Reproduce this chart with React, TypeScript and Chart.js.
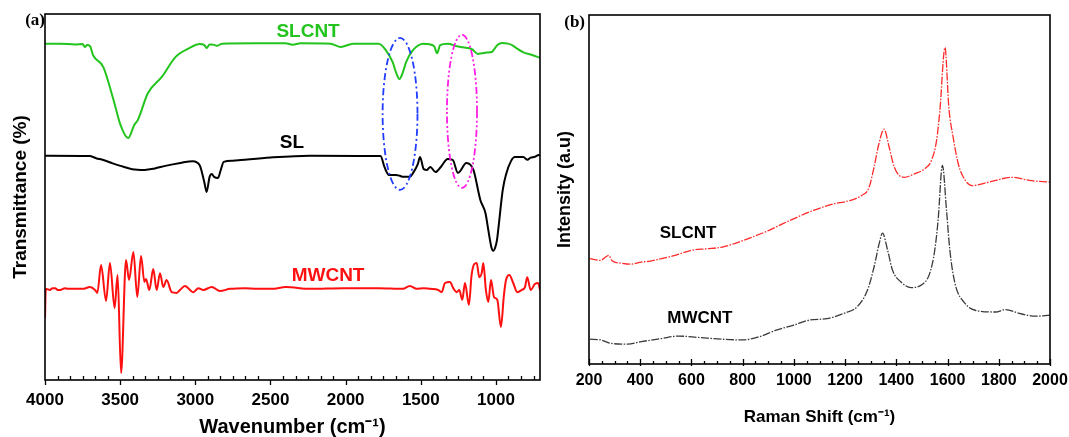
import React, { useEffect, useRef } from 'react';
import { Chart, registerables } from 'chart.js';

Chart.register(...registerables);
Chart.defaults.font.family = '"Liberation Sans", Arial, sans-serif';

// ---------- Panel (a): FTIR (wavenumber cm-1, transmittance % offset) ----------
const ftirSLCNT: [number, number][] = [
  [4000, 91.9], [3900, 91.9], [3800, 91.7], [3750, 91.8], [3735, 91.0], [3720, 91.5], [3700, 91.2],
  [3681, 88.8], [3612, 85.5], [3544, 76.5], [3498, 69.7], [3447, 66.1], [3406, 69.7], [3383, 71.0],
  [3315, 78.4], [3223, 82.8], [3131, 88.3], [3040, 90.7], [2971, 91.8], [2940, 91.5], [2925, 90.7],
  [2905, 91.7], [2891, 91.7], [2870, 91.5], [2856, 91.3], [2822, 91.9], [2600, 92.0], [2400, 92.0],
  [2352, 91.6], [2300, 92.0], [2100, 91.9], [2032, 91.0], [1950, 91.9], [1780, 91.9], [1734, 90.2],
  [1688, 86.9], [1660, 83.5], [1642, 82.2], [1620, 84.0], [1597, 86.9], [1551, 90.2], [1482, 91.9],
  [1413, 91.3], [1395, 89.5], [1390, 89.3], [1380, 90.5], [1372, 91.5], [1321, 91.9], [1306, 91.8],
  [1260, 91.2], [1220, 90.9], [1160, 90.4], [1120, 89.1], [1093, 89.3], [1060, 89.5], [1027, 89.6],
  [1010, 90.5], [990, 91.5], [960, 92.1], [920, 91.9], [893, 91.5], [864, 90.7], [820, 89.6],
  [760, 88.8], [707, 88.0],
];

const ftirSL: [number, number][] = [
  [4000, 61.3], [3704, 61.2], [3660, 60.6], [3612, 60.1], [3550, 59.2], [3498, 58.5], [3420, 57.6],
  [3337, 57.4], [3270, 57.8], [3200, 58.5], [3100, 59.3], [3017, 59.8], [2971, 58.7], [2940, 54.0],
  [2925, 51.4], [2905, 55.5], [2891, 56.3], [2875, 55.5], [2849, 55.2], [2830, 57.5], [2811, 59.6],
  [2750, 59.9], [2696, 60.1], [2500, 60.8], [2237, 61.3], [1768, 61.2], [1740, 58.0], [1712, 56.0],
  [1665, 56.0], [1640, 55.8], [1619, 55.5], [1573, 55.5], [1551, 56.6], [1520, 59.0], [1505, 60.9],
  [1480, 57.6], [1459, 57.4], [1437, 58.2], [1402, 56.8], [1367, 58.2], [1321, 60.4], [1287, 60.1],
  [1253, 56.6], [1196, 59.3], [1150, 57.4], [1104, 49.2], [1070, 45.6], [1051, 41.0], [1040, 38.3],
  [1030, 36.2], [1018, 35.3], [1005, 36.2], [993, 38.3], [985, 41.0], [955, 51.9], [932, 56.3],
  [900, 59.8], [875, 60.9], [818, 60.9], [790, 60.2], [772, 60.7], [740, 61.0], [715, 61.5], [707, 61.3],
];

const ftirMWCNT: [number, number][] = [
  [4000, 16.9], [3995, 24.9], [3967, 24.6], [3950, 25.1], [3933, 25.1], [3915, 24.6], [3900, 24.6],
  [3867, 25.1], [3850, 24.9], [3800, 24.9], [3750, 24.9], [3701, 25.4], [3667, 24.6], [3652, 23.8],
  [3627, 31.4], [3594, 21.6], [3568, 32.0], [3537, 19.7], [3517, 28.7], [3494, 1.9], [3461, 32.8],
  [3441, 27.3], [3412, 35.0], [3386, 22.7], [3361, 33.9], [3339, 26.8], [3328, 27.6], [3306, 24.6],
  [3280, 30.3], [3257, 24.6], [3235, 29.2], [3213, 25.4], [3191, 27.3], [3157, 24.0], [3124, 23.8],
  [3102, 24.6], [3069, 25.7], [3013, 24.0], [2980, 25.1], [2947, 24.6], [2891, 25.4], [2836, 24.3],
  [2769, 24.9], [2670, 25.1], [2592, 24.9], [2490, 24.9], [2398, 25.4], [2237, 24.9], [2010, 25.1],
  [1780, 25.1], [1619, 24.9], [1573, 25.7], [1527, 24.9], [1482, 25.1], [1439, 24.9], [1384, 24.6],
  [1361, 24.0], [1339, 26.5], [1306, 26.8], [1284, 25.1], [1262, 24.0], [1244, 24.6], [1224, 21.9],
  [1206, 26.5], [1180, 20.5], [1162, 28.7], [1144, 31.7], [1128, 32.0], [1111, 28.1], [1095, 29.2],
  [1084, 32.0], [1067, 24.6], [1051, 21.3], [1033, 27.3], [1013, 22.7], [991, 21.9], [967, 14.5],
  [947, 23.2], [933, 27.3], [911, 28.7], [885, 26.5], [858, 24.0], [829, 24.6], [807, 25.4],
  [792, 28.1], [769, 24.6], [741, 26.2], [719, 26.5], [707, 24.6],
];

const ftirMajorTicks = [4000, 3500, 3000, 2500, 2000, 1500, 1000];
const ftirRange = [707, 4000];

// ellipse annotations: [centerX, centerY, halfWidth (cm-1), halfHeight (%)]
const blueEllipse = [1638, 72.7, 116, 20.75];
const magentaEllipse = [1226, 73.4, 100, 20.9];

const ftirTextLabels = [
  { text: 'SLCNT', x: 2250, y: 95.1, color: '#22c41d' },
  { text: 'SL', x: 2357, y: 64.8, color: '#000000' },
  { text: 'MWCNT', x: 2117, y: 28.4, color: '#ff1010' },
];

// ---------- Panel (b): Raman (shift cm-1, intensity a.u.) ----------
const ramanSLCNT: [number, number][] = [
  [203, 30.2], [246, 29.7], [262, 30.5], [277, 31.1], [290, 29.6], [325, 28.9], [360, 28.6], [404, 29.2],
  [440, 29.5], [483, 30.2], [540, 31.2], [601, 32.6], [660, 33.0], [720, 33.5], [780, 34.8], [839, 36.4],
  [900, 38.2], [957, 40.2], [1020, 42.3], [1076, 44.0], [1155, 45.9], [1200, 46.5], [1234, 47.2],
  [1265, 48.3], [1293, 50.5], [1313, 56.4], [1332, 63.1], [1352, 67.3], [1372, 62.1], [1392, 56.4],
  [1412, 54.0], [1431, 53.5], [1471, 54.5], [1510, 55.9], [1537, 58.3], [1557, 64.0], [1570, 72.6],
  [1590, 90.7], [1605, 73.5], [1622, 64.9], [1642, 57.3], [1662, 53.5], [1695, 51.1], [1761, 52.1],
  [1853, 53.5], [1919, 52.6], [1998, 52.1],
];

const ramanMWCNT: [number, number][] = [
  [203, 7.1], [246, 6.9], [286, 5.9], [351, 5.7], [404, 6.4], [483, 7.3], [549, 8.0], [628, 7.6],
  [720, 7.1], [799, 6.9], [865, 7.8], [931, 9.7], [997, 11.1], [1063, 12.6], [1129, 13.0], [1194, 14.5],
  [1247, 16.4], [1287, 21.1], [1313, 27.8], [1333, 34.5], [1346, 37.5], [1366, 32.6], [1385, 26.9],
  [1418, 23.5], [1458, 21.9], [1497, 22.6], [1530, 25.9], [1550, 32.6], [1563, 41.1], [1580, 56.9],
  [1596, 44.0], [1609, 32.6], [1629, 23.1], [1669, 17.3], [1708, 15.4], [1787, 14.9], [1827, 15.6],
  [1880, 14.5], [1945, 13.7], [1998, 14.0],
];

const ramanMajorTicks = [200, 400, 600, 800, 1000, 1200, 1400, 1600, 1800, 2000];
const ramanRange = [200, 2000];

const ramanTextLabels = [
  { text: 'SLCNT', x: 587, y: 37.4, color: '#000000' },
  { text: 'MWCNT', x: 633, y: 13.1, color: '#000000' },
];

const toXY = (arr: [number, number][]) => arr.map(([x, y]) => ({ x, y }));

function makePlugin(opts: {
  id: string;
  minorStep: number;
  majorEvery: number;
  start: number;
  end: number;
  majorOut: number;
  majorIn: number;
  minorIn: number;
  letter: string;
  letterDx: number;
  letterDy: number;
  labels: { text: string; x: number; y: number; color: string }[];
  labelFont: string;
  ellipses: { spec: number[]; color: string; dash: number[] }[];
}) {
  return {
    id: opts.id,
    afterDatasetsDraw(chart: any) {
      const { ctx, chartArea: a, scales } = chart;
      const xs = scales.x;
      const ys = scales.y;
      ctx.save();
      for (const e of opts.ellipses) {
        const [cx, cy, hw, hh] = e.spec;
        const px = xs.getPixelForValue(cx);
        const py = ys.getPixelForValue(cy);
        const rx = Math.abs(xs.getPixelForValue(cx + hw) - px);
        const ry = Math.abs(ys.getPixelForValue(cy + hh) - py);
        ctx.beginPath();
        ctx.setLineDash(e.dash);
        ctx.strokeStyle = e.color;
        ctx.lineWidth = 1.8;
        ctx.ellipse(px, py, rx, ry, 0, 0, Math.PI * 2);
        ctx.stroke();
      }
      ctx.setLineDash([]);
      ctx.font = opts.labelFont;
      ctx.textAlign = 'center';
      ctx.textBaseline = 'middle';
      for (const l of opts.labels) {
        ctx.fillStyle = l.color;
        ctx.fillText(l.text, xs.getPixelForValue(l.x), ys.getPixelForValue(l.y));
      }
      ctx.strokeStyle = '#000';
      ctx.lineWidth = 1.6;
      ctx.strokeRect(a.left, a.top, a.right - a.left, a.bottom - a.top);
      ctx.lineWidth = 1.3;
      ctx.beginPath();
      const lo = Math.min(opts.start, opts.end);
      const hi = Math.max(opts.start, opts.end);
      const dir = opts.end > opts.start ? 1 : -1;
      for (let i = 0; ; i++) {
        const v = opts.start + dir * i * opts.minorStep;
        if (v < lo - 1e-6 || v > hi + 1e-6) break;
        const p = Math.round(xs.getPixelForValue(v)) + 0.5;
        const major = i % opts.majorEvery === 0;
        if (major) {
          ctx.moveTo(p, a.bottom - opts.majorIn);
          ctx.lineTo(p, a.bottom + opts.majorOut);
        } else {
          ctx.moveTo(p, a.bottom - opts.minorIn);
          ctx.lineTo(p, a.bottom);
        }
      }
      ctx.stroke();
      ctx.fillStyle = '#000';
      ctx.font = 'bold 17px "Liberation Serif", "Times New Roman", serif';
      ctx.textAlign = 'right';
      ctx.textBaseline = 'middle';
      ctx.fillText(opts.letter, a.left + opts.letterDx, a.top + opts.letterDy);
      ctx.restore();
    },
  };
}

export default function App() {
  const refA = useRef<HTMLCanvasElement>(null);
  const refB = useRef<HTMLCanvasElement>(null);

  useEffect(() => {
    const chartA = new Chart(refA.current!, {
      type: 'line',
      data: {
        datasets: [
          { data: toXY(ftirSLCNT), borderColor: '#22c41d', borderWidth: 2 },
          { data: toXY(ftirSL), borderColor: '#000000', borderWidth: 2 },
          { data: toXY(ftirMWCNT), borderColor: '#ff1010', borderWidth: 2 },
        ].map((d) => ({ ...d, pointRadius: 0, fill: false, cubicInterpolationMode: 'monotone' as const })),
      },
      options: {
        animation: false,
        responsive: false,
        events: [],
        layout: { padding: { top: 14, right: 8, left: 0, bottom: 0 } },
        plugins: { legend: { display: false }, tooltip: { enabled: false } },
        scales: {
          x: {
            type: 'linear',
            reverse: true,
            min: ftirRange[0],
            max: ftirRange[1],
            afterBuildTicks: (s: any) => {
              s.ticks = ftirMajorTicks.map((v) => ({ value: v }));
            },
            afterFit: (s: any) => {
              s.height = 57;
              s.paddingLeft = 0;
              s.paddingRight = 0;
            },
            grid: { display: false, drawTicks: false },
            border: { display: false },
            ticks: {
              autoSkip: false,
              maxRotation: 0,
              minRotation: 0,
              padding: 12,
              color: '#000',
              font: { size: 17, weight: 'bold', lineHeight: 1 },
              callback: (v: any) => String(v),
            },
            title: {
              display: true,
              text: 'Wavenumber (cm⁻¹)',
              color: '#000',
              font: { size: 20, weight: 'bold', lineHeight: 1 },
              padding: { top: 0, bottom: 0 },
            },
          },
          y: {
            min: 0,
            max: 100,
            afterFit: (s: any) => {
              s.width = 45;
            },
            grid: { display: false, drawTicks: false },
            border: { display: false },
            ticks: { display: false },
            title: {
              display: true,
              text: 'Transmittance (%)',
              color: '#000',
              font: { size: 19, weight: 'bold', lineHeight: 1 },
              padding: { top: 11, bottom: 0 },
            },
          },
        },
      },
      plugins: [
        makePlugin({
          id: 'panelA',
          minorStep: 500 / 6,
          majorEvery: 6,
          start: 4000,
          end: 707,
          majorOut: 5,
          majorIn: 0,
          minorIn: 4,
          letter: '(a)',
          letterDx: 0,
          letterDy: 7,
          labels: ftirTextLabels,
          labelFont: 'bold 19px "Liberation Sans", Arial, sans-serif',
          ellipses: [
            { spec: blueEllipse, color: '#1f3cff', dash: [7, 3, 2, 3] },
            { spec: magentaEllipse, color: '#ff1ee6', dash: [7, 2.5, 2, 2.5, 2, 2.5] },
          ],
        }),
      ],
    } as any);

    const chartB = new Chart(refB.current!, {
      type: 'line',
      data: {
        datasets: [
          { data: toXY(ramanSLCNT), borderColor: '#ff2a2a', borderWidth: 1.3, borderDash: [8, 1.5, 1.5, 1.5] },
          { data: toXY(ramanMWCNT), borderColor: '#3a3a3a', borderWidth: 1.3, borderDash: [8, 1.5, 1.5, 1.5] },
        ].map((d) => ({ ...d, pointRadius: 0, fill: false, cubicInterpolationMode: 'monotone' as const })),
      },
      options: {
        animation: false,
        responsive: false,
        events: [],
        layout: { padding: { top: 15, right: 19, left: 0, bottom: 0 } },
        plugins: { legend: { display: false }, tooltip: { enabled: false } },
        scales: {
          x: {
            type: 'linear',
            min: ramanRange[0],
            max: ramanRange[1],
            afterBuildTicks: (s: any) => {
              s.ticks = ramanMajorTicks.map((v) => ({ value: v }));
            },
            afterFit: (s: any) => {
              s.height = 73;
              s.paddingLeft = 0;
              s.paddingRight = 0;
            },
            grid: { display: false, drawTicks: false },
            border: { display: false },
            ticks: {
              autoSkip: false,
              maxRotation: 0,
              minRotation: 0,
              padding: 9,
              color: '#000',
              font: { size: 16, weight: 'bold', lineHeight: 1 },
              callback: (v: any) => String(v),
            },
            title: {
              display: true,
              text: 'Raman Shift (cm⁻¹)',
              color: '#000',
              font: { size: 17, weight: 'bold', lineHeight: 1 },
              padding: { top: 0, bottom: 11.5 },
            },
          },
          y: {
            min: 0,
            max: 100,
            afterFit: (s: any) => {
              s.width = 41;
            },
            grid: { display: false, drawTicks: false },
            border: { display: false },
            ticks: { display: false },
            title: {
              display: true,
              text: 'Intensity (a.u)',
              color: '#000',
              font: { size: 18, weight: 'bold', lineHeight: 1 },
              padding: { top: 8, bottom: 0 },
            },
          },
        },
      },
      plugins: [
        makePlugin({
          id: 'panelB',
          minorStep: 50,
          majorEvery: 4,
          start: 200,
          end: 2000,
          majorOut: 2,
          majorIn: 5,
          minorIn: 3,
          letter: '(b)',
          letterDx: -4,
          letterDy: 8,
          labels: ramanTextLabels,
          labelFont: 'bold 17px "Liberation Sans", Arial, sans-serif',
          ellipses: [],
        }),
      ],
    } as any);

    return () => {
      chartA.destroy();
      chartB.destroy();
    };
  }, []);

  return (
    <div style={{ position: 'absolute', left: 0, top: 0, width: 1069, height: 437, background: '#fff', overflow: 'hidden' }}>
      <canvas ref={refA} width={548} height={437} style={{ position: 'absolute', left: 0, top: 0, width: 548, height: 437 }} />
      <canvas ref={refB} width={521} height={437} style={{ position: 'absolute', left: 548, top: 0, width: 521, height: 437 }} />
    </div>
  );
}
